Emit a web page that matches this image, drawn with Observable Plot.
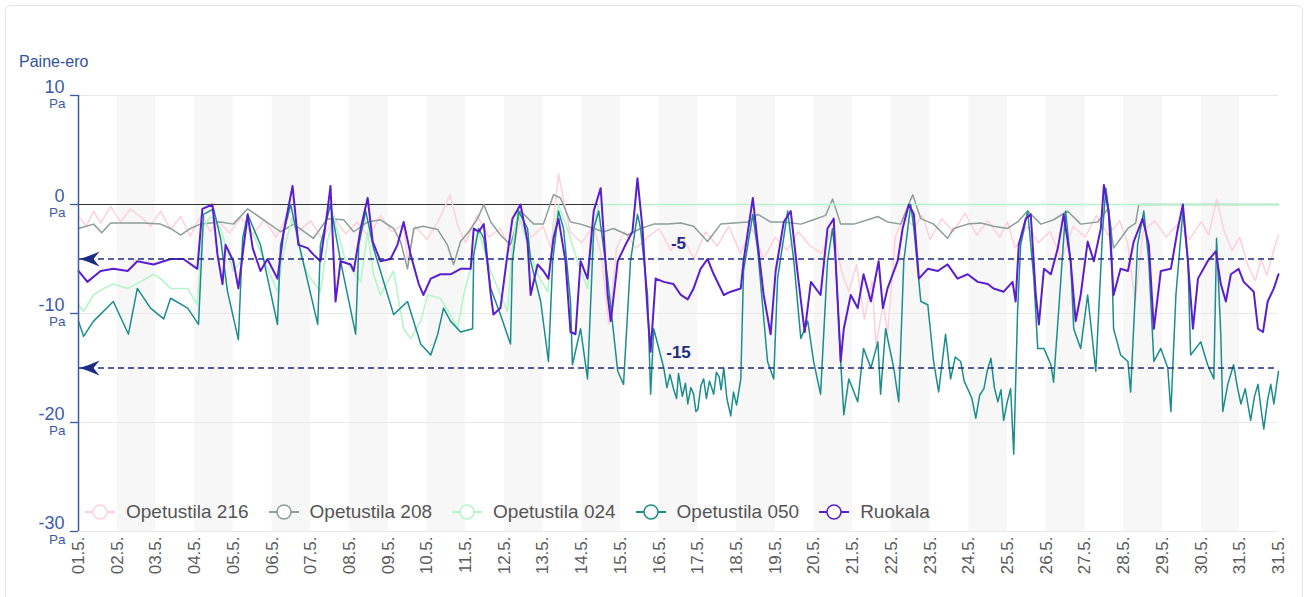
<!DOCTYPE html>
<html><head><meta charset="utf-8">
<script src="https://cdn.jsdelivr.net/npm/d3@7"></script>
<script src="https://cdn.jsdelivr.net/npm/@observablehq/plot@0.6"></script>
<style>
body{margin:0;background:#fff;font-family:"Liberation Sans",Arial,sans-serif;}
#wrap{position:relative;width:1308px;height:597px;overflow:hidden;}
#card{position:absolute;left:5px;top:5px;width:1298px;height:640px;border:1px solid #e3e3e3;border-radius:6px;box-sizing:border-box;}
#chart{position:absolute;left:0;top:0;}
#title{position:absolute;left:19px;top:53px;font-size:16px;color:#2f52a0;}
#legend{position:absolute;left:85px;top:501px;display:flex;align-items:center;font-size:19px;color:#555;white-space:nowrap;}
.item{display:flex;align-items:center;margin-right:20px;}
.item svg{margin-right:11px;}
</style></head><body>
<div id="wrap"><div id="card"></div><div id="chart"></div><div id="title">Paine-ero</div><div id="legend"></div></div>
<script>
// ---- data ----
const dayLabels = ["01.5.","02.5.","03.5.","04.5.","05.5.","06.5.","07.5.","08.5.","09.5.","10.5.","11.5.","12.5.","13.5.","14.5.","15.5.","16.5.","17.5.","18.5.","19.5.","20.5.","21.5.","22.5.","23.5.","24.5.","25.5.","26.5.","27.5.","28.5.","29.5.","30.5.","31.5.","31.5."];
const yTicks = [10, 0, -10, -20, -30];
const gridValues = [10, -10, -20, -30];
const refLevels = [-5, -15];
const shadedDays = [1, 3, 5, 7, 9, 11, 13, 15, 17, 19, 21, 23, 25, 27, 29];
const seriesNames = ["Opetustila 216", "Opetustila 208", "Opetustila 024", "Opetustila 050", "Ruokala"];
const seriesColors = ["#ffd0dc", "#8c9f98", "#b5f5c8", "#1b8d8c", "#5a1ecf"];

// [day offset from 01.5. 00:00, Pa]
const op216 = [[0,-1.1],[0.2,-2.0],[0.39,-0.6],[0.57,-1.7],[0.83,-0.2],[1.09,-1.6],[1.34,-0.4],[1.6,-1.1],[1.86,-2.0],[2.12,-0.6],[2.38,-2.3],[2.64,-1.1],[2.89,-2.9],[3.07,-1.6],
[3.2,-0.9],[3.4,-2.5],[3.6,-1.5],[3.9,-2.6],[4.2,-1.2],[4.5,-2.8],[4.8,-1.4],[5.1,-3.0],[5.4,-1.0],[5.7,-2.4],[6.0,-1.5],[6.3,-3.2],[6.6,-1.2],[6.9,-2.7],[7.2,-1.6],[7.5,-3.0],[7.8,-1.0],[8.1,-2.5],[8.4,-1.8],[8.5,-5.2],[8.7,-2.0],[9.0,-3.2],[9.3,-1.5],[9.6,0.9],[9.8,-2.0],[10.0,-3.5],[10.3,-1.0],[10.6,-3.0],[10.9,-2.2],[11.2,-4.5],[11.4,-1.5],[11.7,-3.0],[12.0,-2.0],[12.2,-4.0],[12.4,2.8],[12.5,1.0],[12.7,-2.5],[13.0,-3.5],[13.3,-2.0],[13.5,-4.5],[13.7,-11.0],[13.9,-4.0],[14.1,-2.5],[14.4,-4.0],[14.7,-3.0],[15.0,-2.2],[15.3,-4.2],[15.6,-3.0],[15.9,-5.0],[16.2,-2.5],[16.5,-3.8],[16.8,-2.0],[17.1,-4.5],[17.4,-2.2],[17.7,-5.0],[18.0,-3.0],[18.3,-4.2],[18.6,-2.5],[18.9,-3.8],[19.2,-4.5],[19.5,-2.0],[19.7,-6.0],[19.9,-8.0],[20.1,-5.5],[20.3,-10.5],[20.5,-7.0],[20.6,-12.8],[20.8,-9.0],[20.9,-12.0],[21.1,-3.0],[21.3,-1.2],[21.6,-2.0],[21.8,-1.0],[22.0,-3.2],[22.3,-1.3],[22.6,-2.5],[22.9,-0.8],[23.2,-2.8],[23.5,-1.5],[23.8,-3.0],[24.0,-1.6],[24.2,-4.0],[24.5,-2.0],[24.8,-3.5],[25.1,-2.5],[25.4,-5.0],[25.7,-2.0],[26.0,-3.0],[26.3,-1.0],[26.6,-2.8],[26.9,-1.5],[27.1,-3.5],[27.3,-8.9],[27.5,-2.5],[27.8,-1.5],[28.1,-3.0],[28.4,-1.8],[28.7,-3.2],[29.0,-1.6],[29.2,-2.8],[29.4,0.5],[29.6,-2.5],[29.8,-4.2],[30.0,-3.0],[30.2,-5.5],[30.4,-7.0],[30.55,-5.0],[30.7,-6.5],[30.85,-4.5],[31,-2.8]];

const op208 = [[0,-2.2],[0.39,-1.8],[0.6,-2.6],[0.83,-1.7],[1.27,-1.7],[1.68,-1.7],[2.12,-1.8],[2.38,-2.2],[2.64,-2.8],[2.89,-2.2],[3.15,-1.8],[3.67,-1.6],[4.0,-1.8],[4.37,-0.4],[5.22,-2.5],[5.56,-1.8],[6.07,-3.1],[6.43,-1.3],[6.85,-1.4],[7.11,-2.5],[7.47,-1.6],[7.8,-1.4],[8.14,-2.2],[8.32,-3.4],[8.5,-5.9],[8.66,-2.2],[8.91,-2.0],[9.28,-2.3],[9.53,-3.7],[9.69,-5.5],[9.87,-3.4],[10.08,-2.5],[10.31,-1.3],[10.47,0],[10.65,-1.6],[10.9,-2.8],[11.16,-3.7],[11.42,-0.6],[11.76,-1.8],[12.01,-1.8],[12.27,0.9],[12.45,0.6],[12.71,-1.6],[12.97,-1.8],[13.31,-2.2],[13.57,-2.5],[13.82,-2.2],[14.19,-2.8],[14.52,-2.2],[14.86,-1.8],[15.22,-1.8],[15.56,-1.7],[15.89,-2.0],[16.25,-3.4],[16.59,-1.8],[16.93,-1.7],[17.29,-1.6],[17.55,-0.9],[17.88,-1.6],[18.22,-1.6],[18.66,-1.8],[18.99,-1.4],[19.3,-1.0],[19.48,0.5],[19.69,-1.8],[20.03,-1.8],[20.39,-1.4],[20.65,-1.1],[20.9,-1.6],[21.24,-1.8],[21.55,0.9],[21.76,-1.3],[22.09,-1.8],[22.45,-3.1],[22.61,-2.2],[22.97,-1.8],[23.31,-1.7],[23.64,-2.0],[24.0,-2.2],[24.26,-1.6],[24.52,-0.6],[24.86,-1.8],[25.19,-1.4],[25.55,-0.6],[25.89,-1.8],[26.33,-1.6],[26.59,-0.4],[26.74,-4.0],[27.11,-2.2],[27.31,-1.7],[27.39,0],[31,0]];

const op024 = [[0,-9.2],[0.13,-9.8],[0.39,-8.3],[0.65,-7.7],[0.9,-7.3],[1.27,-7.7],[1.6,-7.1],[1.94,-6.4],[2.12,-6.8],[2.38,-7.7],[2.82,-7.7],[3.07,-9.2],[3.2,-2.2],[3.41,-1.1],[3.67,-2.2],[4.0,-6.1],[4.19,-5.2],[4.37,-1.6],[4.7,-4.3],[5.14,-8.0],[5.3,-4.3],[5.53,-1.1],[5.74,-4.6],[5.92,-6.4],[6.25,-8.0],[6.43,-3.4],[6.59,-1.1],[6.9,-5.2],[7.29,-7.1],[7.47,-2.5],[7.62,-6.4],[7.8,-8.3],[8.14,-6.1],[8.4,-11.4],[8.58,-12.3],[8.84,-10.7],[9.02,-8.3],[9.35,-8.6],[9.61,-10.1],[9.79,-11.4],[9.95,-8.3],[10.18,-5.2],[10.31,-2.2],[10.65,-6.1],[10.9,-8.3],[11.08,-9.8],[11.21,-4.0],[11.34,-0.6],[11.6,-3.7],[11.86,-6.4],[12.12,-8.0],[12.27,-2.8],[12.4,0],[12.63,-2.2],[12.89,-5.2],[13.15,-7.7],[13.31,-2.2],[13.44,0],[31,0]];

const op050 = [[0,-10.7],[0.13,-12.1],[0.39,-10.7],[0.9,-8.9],[1.29,-11.9],[1.52,-7.7],[1.86,-9.5],[2.2,-10.5],[2.38,-8.6],[2.82,-9.5],[3.1,-11.0],[3.23,-0.9],[3.49,-0.4],[3.67,-3.1],[3.85,-8.0],[4.13,-12.4],[4.24,-3.1],[4.37,-0.9],[4.7,-3.7],[5.14,-11.0],[5.22,-3.7],[5.48,0],[5.74,-4.3],[6.18,-11.0],[6.25,-3.7],[6.51,0],[6.77,-5.2],[7.16,-11.9],[7.24,-3.7],[7.42,-0.6],[7.62,-4.0],[8.14,-10.1],[8.5,-8.9],[8.84,-12.8],[9.1,-13.8],[9.28,-11.9],[9.43,-9.5],[9.61,-10.7],[9.87,-11.7],[10.18,-11.4],[10.21,-4.6],[10.34,-2.2],[10.47,-3.1],[10.65,-7.7],[10.9,-10.1],[11.16,-12.8],[11.21,-5.2],[11.37,-0.6],[11.6,-2.2],[11.68,-5.2],[11.94,-8.9],[12.14,-14.4],[12.25,-5.2],[12.4,-0.6],[12.53,-2.2],[12.71,-8.9],[12.76,-14.7],[12.97,-11.4],[13.15,-16.0],[13.31,-2.2],[13.44,-0.6],[13.67,-6.8],[13.93,-15.3],[14.08,-16.5],[14.26,-5.2],[14.44,-0.9],[14.52,-2.2],[14.7,-8.3],[14.78,-17.4],[14.86,-11.4],[15.12,-15.0],[15.2,-16.8],[15.28,-15.6],[15.37,-16.9],[15.45,-17.8],[15.5,-15.5],[15.6,-17.6],[15.68,-16.4],[15.74,-18.3],[15.82,-16.8],[15.89,-17.4],[15.95,-19.0],[16.0,-18.8],[16.08,-16.6],[16.15,-16.0],[16.22,-17.8],[16.3,-16.2],[16.41,-17.4],[16.48,-15.4],[16.55,-15.8],[16.6,-17.0],[16.67,-15.0],[16.75,-17.8],[16.85,-19.4],[16.92,-17.2],[17.0,-18.4],[17.11,-16.0],[17.18,-6.1],[17.42,-0.9],[17.55,-4.3],[17.8,-14.4],[17.96,-16.0],[18.06,-6.8],[18.32,-0.6],[18.48,-5.2],[18.66,-12.3],[18.84,-10.7],[18.99,-14.4],[19.17,-17.4],[19.35,-5.2],[19.48,-2.2],[19.56,-5.2],[19.69,-14.4],[19.77,-19.3],[19.9,-16.0],[20.13,-18.1],[20.28,-13.2],[20.47,-15.0],[20.65,-12.6],[20.72,-17.4],[20.85,-11.4],[21.06,-15.0],[21.19,-18.1],[21.32,-5.2],[21.5,0],[21.58,-2.2],[21.76,-8.9],[21.94,-9.2],[22.09,-14.4],[22.22,-17.2],[22.4,-11.9],[22.53,-16.0],[22.65,-14.0],[22.79,-14.4],[22.88,-16.2],[22.97,-16.9],[23.08,-17.8],[23.18,-19.6],[23.28,-17.5],[23.39,-16.9],[23.48,-15.2],[23.57,-14.1],[23.66,-16.8],[23.75,-18.1],[23.83,-17.0],[23.9,-19.8],[24.0,-18.0],[24.08,-16.9],[24.16,-22.9],[24.26,-9.8],[24.34,-3.7],[24.52,-0.6],[24.68,-6.8],[24.78,-13.2],[24.94,-13.2],[25.12,-14.7],[25.19,-16.3],[25.32,-9.8],[25.5,-0.6],[25.63,-5.2],[25.71,-11.4],[25.89,-13.2],[26.07,-8.3],[26.28,-15.3],[26.46,-2.2],[26.54,1.5],[26.67,-2.2],[26.74,-11.4],[26.92,-13.8],[27.11,-14.4],[27.18,-17.2],[27.36,-3.7],[27.52,-0.6],[27.65,-5.2],[27.78,-14.4],[27.96,-13.2],[28.14,-15.0],[28.22,-19.0],[28.35,-8.3],[28.53,-0.6],[28.66,-5.2],[28.73,-13.8],[28.99,-12.6],[29.17,-14.7],[29.33,-16.0],[29.4,-3.1],[29.51,-12.0],[29.56,-19.0],[29.69,-16.5],[29.84,-14.7],[29.94,-16.8],[30.03,-18.3],[30.14,-16.9],[30.28,-19.8],[30.38,-17.6],[30.47,-16.5],[30.55,-18.8],[30.62,-20.6],[30.72,-17.9],[30.8,-16.5],[30.88,-18.3],[31,-15.3]];

const ruokala = [[0,-6.1],[0.23,-7.1],[0.57,-6.1],[0.9,-5.9],[1.27,-6.1],[1.52,-5.2],[1.94,-5.5],[2.38,-5.0],[2.71,-5.0],[3.07,-5.9],[3.2,-0.4],[3.46,0],[3.59,-4.6],[3.72,-7.3],[3.8,-3.7],[4.0,-5.2],[4.13,-7.7],[4.37,-0.9],[4.5,-4.0],[4.7,-6.1],[4.88,-5.0],[5.14,-6.8],[5.3,-2.5],[5.53,1.7],[5.68,-3.7],[5.92,-4.0],[6.07,-4.6],[6.25,-5.2],[6.43,-0.6],[6.51,1.7],[6.64,-8.9],[6.77,-5.2],[7.03,-5.5],[7.11,-6.1],[7.29,-2.2],[7.47,0.6],[7.6,-3.4],[7.8,-5.2],[8.06,-5.0],[8.24,-3.7],[8.4,-1.6],[8.58,-4.6],[8.79,-7.3],[8.91,-8.3],[9.1,-6.8],[9.35,-6.4],[9.61,-6.4],[9.87,-5.9],[10.13,-5.9],[10.21,-2.2],[10.34,-2.5],[10.47,-1.8],[10.65,-8.3],[10.72,-10.1],[10.9,-9.5],[11.08,-4.6],[11.21,-1.3],[11.42,0],[11.6,-3.4],[11.68,-8.3],[11.86,-5.5],[12.01,-6.1],[12.14,-6.8],[12.27,-3.1],[12.4,-1.3],[12.58,-5.2],[12.71,-11.7],[12.84,-11.9],[12.97,-5.2],[13.15,-6.8],[13.31,-0.6],[13.49,1.5],[13.67,-8.3],[13.75,-10.7],[13.93,-5.2],[14.13,-3.7],[14.31,-2.5],[14.44,2.4],[14.57,-2.2],[14.7,-9.8],[14.78,-13.5],[14.91,-6.8],[15.12,-7.1],[15.37,-7.3],[15.56,-8.3],[15.74,-8.7],[15.89,-7.7],[16.07,-5.9],[16.25,-5.0],[16.41,-6.4],[16.67,-8.3],[16.85,-8.0],[17.11,-7.7],[17.18,-5.2],[17.42,0.6],[17.55,-3.7],[17.7,-8.3],[17.88,-11.9],[18.01,-6.1],[18.22,-1.6],[18.4,-0.6],[18.58,-6.4],[18.76,-11.7],[18.92,-7.1],[19.17,-8.3],[19.35,-2.2],[19.51,-1.3],[19.56,-5.2],[19.69,-14.4],[19.77,-11.4],[19.95,-8.3],[20.13,-9.5],[20.28,-6.4],[20.47,-8.9],[20.67,-5.2],[20.78,-9.5],[20.9,-7.7],[21.16,-5.2],[21.29,-2.2],[21.45,0],[21.58,-0.9],[21.71,-6.8],[21.94,-5.9],[22.2,-6.1],[22.45,-5.5],[22.71,-6.8],[22.97,-6.4],[23.23,-7.1],[23.49,-7.3],[23.64,-7.7],[23.9,-8.0],[24.13,-7.1],[24.21,-8.9],[24.29,-3.7],[24.47,-1.3],[24.6,-0.9],[24.73,-8.3],[24.81,-11.0],[24.94,-5.9],[25.12,-6.4],[25.3,-4.0],[25.45,-0.9],[25.63,-5.2],[25.76,-10.7],[25.89,-8.3],[26.07,-3.4],[26.23,-5.2],[26.41,-2.2],[26.49,1.8],[26.61,-0.6],[26.74,-8.3],[26.92,-5.9],[27.11,-6.1],[27.26,-3.4],[27.49,-1.3],[27.65,-3.7],[27.78,-11.4],[27.96,-6.1],[28.22,-5.9],[28.4,-2.2],[28.53,0],[28.66,-5.2],[28.79,-11.4],[28.92,-6.8],[29.17,-5.2],[29.38,-4.3],[29.51,-7.3],[29.64,-8.9],[29.77,-6.4],[29.97,-5.9],[30.1,-7.1],[30.36,-8.0],[30.47,-11.4],[30.6,-11.7],[30.72,-8.9],[30.88,-7.7],[31,-6.4]];

const seriesData = [op216, op208, op024, op050, ruokala];
const seriesWidths = [1.5, 1.5, 1.6, 1.5, 2];

// ---- chart ----
const blue = "#3b5ba8";
const navy = "#1f2c86";
const xDomain = [0, dayLabels.length - 1];
const yDomain = [yTicks[yTicks.length - 1], yTicks[0]];

const arrowHead = {
  draw(context, size) {
    const s = Math.sqrt(size / Math.PI) / 9;
    context.moveTo(0, 0);
    context.quadraticCurveTo(10 * s, -3 * s, 20 * s, -7.5 * s);
    context.lineTo(14 * s, 0);
    context.lineTo(20 * s, 7.5 * s);
    context.quadraticCurveTo(10 * s, 3 * s, 0, 0);
    context.closePath();
  }
};

const lineMarks = seriesData.map((data, i) =>
  Plot.line(data, {x: d => d[0], y: d => d[1], stroke: seriesColors[i], strokeWidth: seriesWidths[i], strokeLinejoin: "round"})
);

const chart = Plot.plot({
  width: 1308,
  height: 597,
  marginLeft: 78,
  marginRight: 30,
  marginTop: 95,
  marginBottom: 66,
  style: {fontFamily: "'Liberation Sans', Arial, sans-serif", background: "transparent"},
  x: {domain: xDomain, axis: null},
  y: {domain: yDomain, axis: null},
  marks: [
    Plot.rect(shadedDays, {x1: d => d, x2: d => d + 1, y1: yDomain[0], y2: yDomain[1], fill: "#f7f7f7"}),
    Plot.ruleY(gridValues, {stroke: "#e9e9e9", strokeWidth: 1}),
    Plot.ruleY([0], {stroke: "#333", strokeWidth: 1.2}),
    ...lineMarks,
    Plot.ruleY(refLevels, {stroke: navy, strokeWidth: 1.3, strokeDasharray: "6,4"}),
    Plot.dot(refLevels, {x: xDomain[0], y: d => d, symbol: arrowHead, r: 9, fill: navy, stroke: "none", dx: 1}),
    Plot.text(refLevels, {frameAnchor: "middle", y: d => d, text: d => String(d), dy: -10, lineAnchor: "bottom", fontSize: 17, fontWeight: "bold", fill: navy}),
    Plot.ruleX([xDomain[0]], {stroke: blue, strokeWidth: 1.5}),
    Plot.axisY({ticks: yTicks, tickSize: 8, tickFormat: () => "", stroke: blue, strokeWidth: 1.3, label: null}),
    Plot.text(yTicks, {frameAnchor: "left", y: d => d, text: d => String(d), dx: -14, dy: -3, textAnchor: "end", lineAnchor: "bottom", fontSize: 18, fill: blue}),
    Plot.text(yTicks, {frameAnchor: "left", y: d => d, text: () => "Pa", dx: -13, dy: 3, textAnchor: "end", lineAnchor: "top", fontSize: 13.5, fill: blue}),
    Plot.axisX({ticks: dayLabels.map((d, i) => i), tickFormat: i => dayLabels[i], tickRotate: -90, tickSize: 0, tickPadding: 5, fontSize: 17, color: "#5a5a5a", label: null})
  ]
});
document.getElementById("chart").appendChild(chart);

// ---- legend ----
const legend = document.getElementById("legend");
seriesNames.forEach((name, i) => {
  const item = document.createElement("div");
  item.className = "item";
  item.innerHTML = `<svg width="30" height="18"><line x1="0" y1="9" x2="30" y2="9" stroke="${seriesColors[i]}" stroke-width="2"/><circle cx="15" cy="9" r="7" fill="#fff" stroke="${seriesColors[i]}" stroke-width="1.5"/></svg><span>${name}</span>`;
  legend.appendChild(item);
});
</script>
</body></html>
